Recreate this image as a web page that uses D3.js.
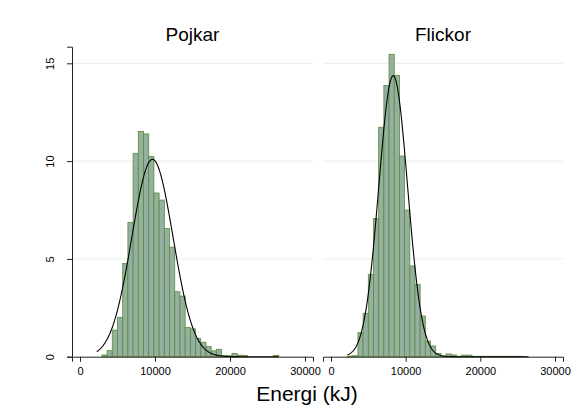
<!DOCTYPE html>
<html>
  <head>
    <meta charset="UTF-8">
    <script src="https://d3js.org/d3.v7.min.js"></script>
    <style>
      body { margin: 0; background: #fff; }
      text { font-family: "Liberation Sans", Arial, sans-serif; }
    </style>
  </head>
  <body>
    <svg class="chart"></svg>
    <script type="text/javascript">

     var width = 576,
         height = 418;

     // histogram bins (kJ), shared by both panels
     var binStart = 2222,
         binWidth = 694;

     // percent per bin
     var boysPct = [0, 0.09, 0.31, 1.36, 2.01, 4.77, 6.87, 10.40, 11.52, 11.39,
                    10.24, 8.37, 8.01, 6.56, 5.60, 3.32, 3.10, 1.49, 1.42, 0.94,
                    0.74, 0.52, 0.30, 0.38, 0.05, 0.05, 0.17, 0.08, 0.07, 0,
                    0, 0, 0, 0, 0.07];
     var girlsPct = [0.03, 0.05, 1.23, 2.22, 4.21, 7.07, 11.73, 13.87, 15.46, 14.39,
                     10.26, 7.50, 4.64, 3.70, 2.08, 0.80, 0.55, 0.17, 0.03, 0.14,
                     0.09, 0.02, 0.08, 0.08, 0.02, 0.02, 0.02, 0.02, 0.02, 0.02,
                     0.02, 0.02, 0.02, 0.02, 0];

     // fitted normal curves (mean, sd)
     var boysNormal = [9660, 2744];
     var girlsNormal = [8330, 1927];
     var dataRange = [2222, 26512];

     var panelTitles = ["Pojkar", "Flickor"];
     var xTicks = [0, 10000, 20000, 30000];
     var yTicks = [0, 5, 10, 15];

     var plotTop = 46.7, plotBottom = 356.7, yMax = 15.85;
     var panelsX = [[72, 313], [323, 563]];

     var chart = d3.select(".chart")
                   .attr("width", width)
                   .attr("height", height);

     var y = d3.scaleLinear().domain([0, yMax]).range([plotBottom, plotTop]);

     var panels = [
         {title: panelTitles[0], pct: boysPct, normal: boysNormal},
         {title: panelTitles[1], pct: girlsPct, normal: girlsNormal}
     ];

     panels.forEach(function(p, i) {
         var x = d3.scaleLinear().domain([-1070, 31070]).range(panelsX[i]);
         var g = chart.append("g");

         // grid
         g.append("g").selectAll("line")
          .data(yTicks.slice(1))
          .enter().append("line")
          .attr("x1", panelsX[i][0]).attr("x2", panelsX[i][1])
          .attr("y1", function(d) { return y(d); })
          .attr("y2", function(d) { return y(d); })
          .attr("stroke", "#e6eeee")
          .attr("stroke-width", 1);

         // bars
         var bars = p.pct.map(function(v, j) { return {i: j, v: v}; })
                         .filter(function(d) { return d.v > 0; });
         g.append("g").selectAll("rect")
          .data(bars)
          .enter().append("rect")
          .attr("x", function(d) { return x(binStart + d.i * binWidth); })
          .attr("width", function(d) { return x(binStart + (d.i + 1) * binWidth) - x(binStart + d.i * binWidth); })
          .attr("y", function(d) { return y(d.v); })
          .attr("height", function(d) { return y(0) - y(d.v); })
          .attr("fill", "#93b0a2")
          .attr("stroke", "#5f8a36")
          .attr("stroke-width", 0.8);

         // normal overlay, scaled to percent per bin
         var mu = p.normal[0], sd = p.normal[1];
         var pts = d3.range(dataRange[0], dataRange[1] + 1, 60);
         var line = d3.line()
                      .x(function(d) { return x(d); })
                      .y(function(d) {
                          var z = (d - mu) / sd;
                          return y(100 * binWidth * Math.exp(-0.5 * z * z) / (sd * Math.sqrt(2 * Math.PI)));
                      });
         g.append("path")
          .datum(pts)
          .attr("d", line)
          .attr("fill", "none")
          .attr("stroke", "#000")
          .attr("stroke-width", 1.1);

         // x axis
         var xa = g.append("g")
                   .attr("transform", "translate(0," + plotBottom + ")")
                   .call(d3.axisBottom(x).tickValues(xTicks).tickSize(5).tickPadding(6)
                           .tickFormat(d3.format("d")));
         xa.select(".domain").attr("stroke", "#222");
         xa.selectAll(".tick line").attr("stroke", "#222");
         xa.selectAll("text").attr("font-size", 11).attr("fill", "#000")
           .style("font-family", "'Liberation Sans', Arial, sans-serif");

         // title
         g.append("text")
          .attr("x", (panelsX[i][0] + panelsX[i][1]) / 2)
          .attr("y", 41)
          .attr("text-anchor", "middle")
          .attr("font-size", 19)
          .text(p.title);

         if (i == 0) {
             var ya = g.append("g")
                       .attr("transform", "translate(" + panelsX[0][0] + ",0)")
                       .call(d3.axisLeft(y).tickValues(yTicks).tickSize(5));
             ya.select(".domain").attr("stroke", "#222");
             ya.selectAll(".tick line").attr("stroke", "#222");
             ya.selectAll("text")
               .attr("x", null).attr("dy", null)
               .attr("transform", "translate(-18,0) rotate(-90)")
               .attr("text-anchor", "middle")
               .attr("font-size", 11).attr("fill", "#000")
               .style("font-family", "'Liberation Sans', Arial, sans-serif");
         }
     });

     chart.append("text")
          .attr("x", 307)
          .attr("y", 401)
          .attr("text-anchor", "middle")
          .attr("font-size", 21)
          .text("Energi (kJ)");

    </script>
  </body>
</html>
